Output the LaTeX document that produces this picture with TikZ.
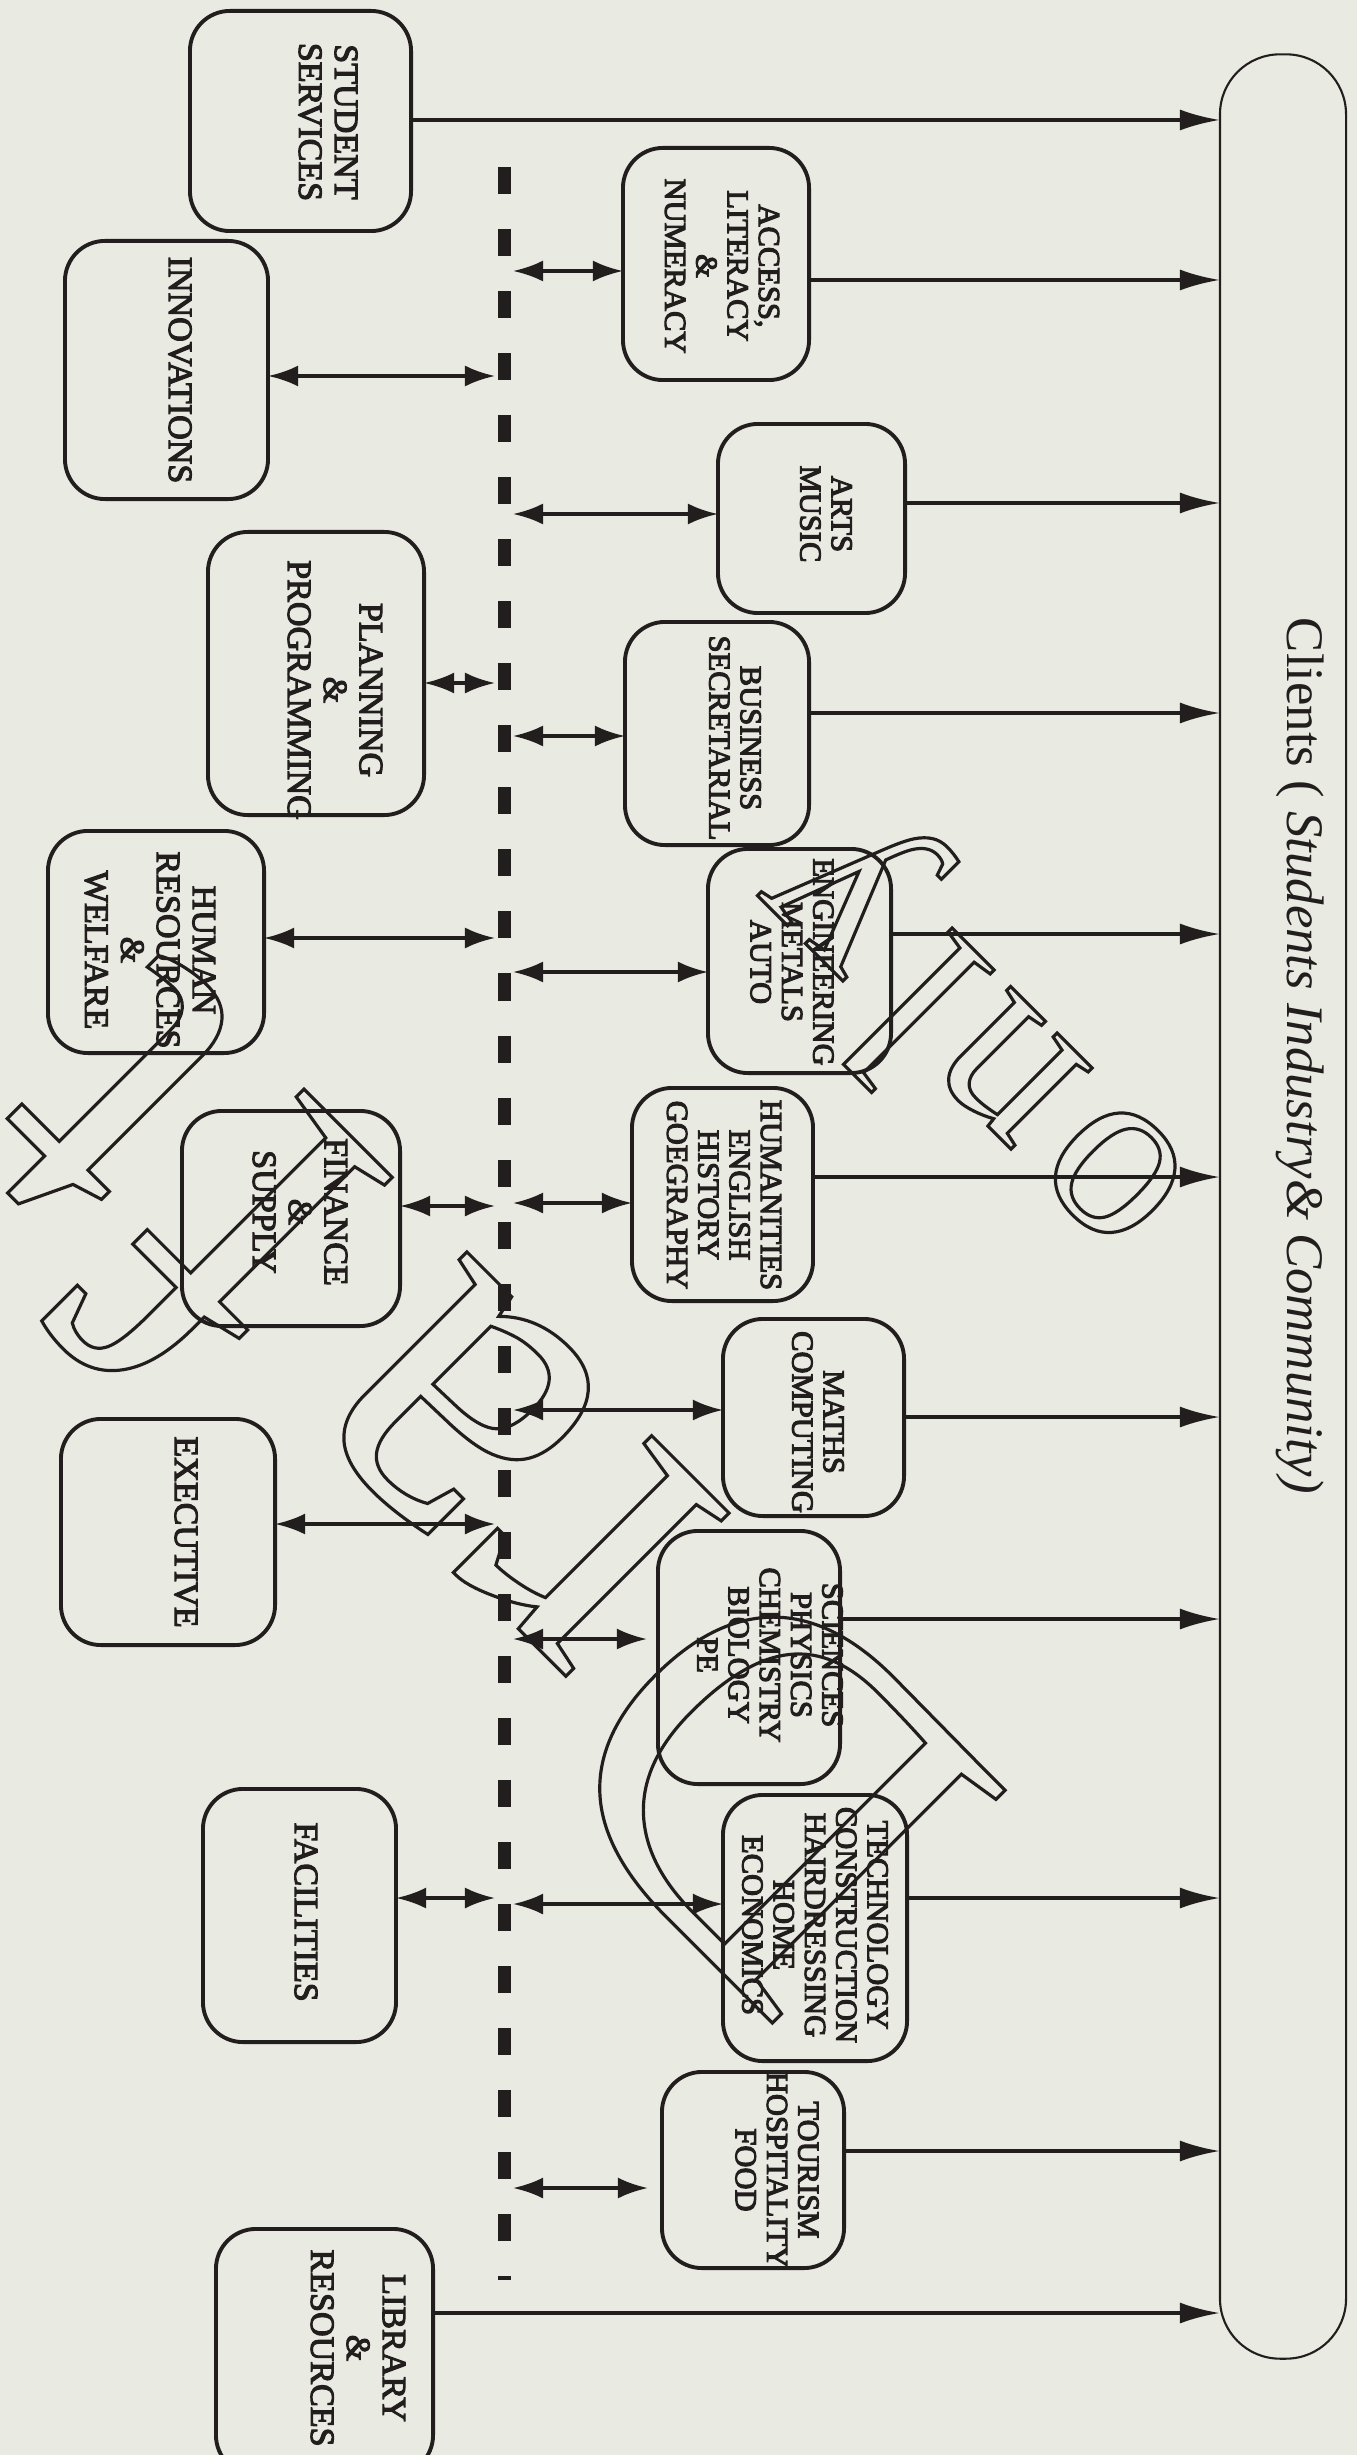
\documentclass[tikz,border=0pt]{standalone}
\usepackage{fontspec}
\setmainfont{Liberation Serif}
\usetikzlibrary{arrows.meta}
\definecolor{bg}{RGB}{233,234,226}
\definecolor{ink}{RGB}{35,30,30}
\newcommand\outl[1]{\special{pdf:literal direct 1 Tr 0.9 w}#1\special{pdf:literal direct 0 Tr}}
\newcommand\bx[1]{\special{pdf:literal direct 2 Tr 0.3 w}#1\special{pdf:literal direct 0 Tr}}
\tikzset{
  box/.style={draw=ink, line width=1.1pt, rounded corners=0.4cm, inner sep=0pt, outer sep=0pt},
  lblL/.style={rotate=-90, align=center, font=\fontsize{9.7}{10.2}\selectfont, text=ink, inner sep=0pt},
  lblR/.style={rotate=-90, align=center, font=\fontsize{8.7}{8.9}\selectfont, text=ink, inner sep=0pt},
  conn/.style={draw=ink, line width=1pt},
  toC/.style={conn, -{Latex[length=0.4cm,width=0.21cm]}},
  both/.style={conn, {Latex[length=0.3cm,width=0.21cm]}-{Latex[length=0.3cm,width=0.21cm]}},
  wm/.style={rotate=135, anchor=base, inner sep=0pt, outer sep=0pt, text=ink},
}
\begin{document}
\begin{tikzpicture}[x=0.01cm, y=-0.01cm]
\useasboundingbox (0,0) rectangle (1357,2455);
\clip (0,0) rectangle (1357,2455);
\fill[bg] (0,0) rectangle (1357,2455);

% boxes
\node[box, minimum width=2.21cm, minimum height=2.20cm] (ss) at (300.5,121) {};
\node[box, minimum width=2.03cm, minimum height=2.58cm] (inn) at (166.5,370) {};
\node[box, minimum width=1.86cm, minimum height=2.32cm] (acc) at (716,264) {};
\node[box, minimum width=1.87cm, minimum height=1.89cm] (arts) at (811.5,518.5) {};
\node[box, minimum width=2.16cm, minimum height=2.83cm] (plan) at (316,673.5) {};
\node[box, minimum width=1.84cm, minimum height=2.23cm] (bus) at (717,733.5) {};
\node[box, minimum width=2.16cm, minimum height=2.22cm] (hr) at (156,942) {};
\node[box, minimum width=1.83cm, minimum height=2.24cm] (eng) at (799.5,961) {};
\node[box, minimum width=2.18cm, minimum height=2.15cm] (fin) at (291,1218.5) {};
\node[box, minimum width=1.81cm, minimum height=2.13cm] (hum) at (722.5,1194.5) {};
\node[box, minimum width=1.81cm, minimum height=1.97cm] (math) at (813.5,1417.5) {};
\node[box, minimum width=2.14cm, minimum height=2.26cm] (exe) at (168,1532) {};
\node[box, minimum width=1.82cm, minimum height=2.53cm] (sci) at (749,1657.5) {};
\node[box, minimum width=1.93cm, minimum height=2.53cm] (fac) at (299.5,1915.5) {};
\node[box, minimum width=1.84cm, minimum height=2.66cm] (tech) at (815,1928) {};
\node[box, minimum width=1.82cm, minimum height=1.96cm] (tour) at (753,2170) {};
\node[box, minimum width=2.17cm, minimum height=2.46cm] (lib) at (324.5,2352) {};
\node[box, line width=0.6pt, rounded corners=0.6cm, minimum width=1.26cm, minimum height=23.03cm] (cl) at (1283,1206.5) {};

% labels
\node[lblL] (tss) at (328,122) {\bx{STUDENT\\SERVICES}};
\node[lblL] (tinn) at (180,370) {\bx{INNOVATIONS}};
\node[lblR] (tacc) at (722,266) {\bx{ACCESS,\\LITERACY\\\&\\NUMERACY}};
\node[lblR] (tarts) at (826,514) {\bx{ARTS\\MUSIC}};
\node[lblL] (tplan) at (335,690) {\bx{PLANNING\\\&\\PROGRAMMING}};
\node[lblR] (tbus) at (735,738) {\bx{BUSINESS\\SECRETARIAL}};
\node[lblL] (thr) at (150,950) {\bx{HUMAN\\RESOURCES\\\&\\WELFARE}};
\node[lblR] (teng) at (792,962) {\bx{ENGINEERING\\METALS\\AUTO}};
\node[lblL] (tfin) at (300,1212) {\bx{FINANCE\\\&\\SUPPLY}};
\node[lblR] (thum) at (724,1195) {\bx{HUMANITIES\\ENGLISH\\HISTORY\\GOEGRAPHY}};
\node[lblR] (tmath) at (818,1422) {\bx{MATHS\\COMPUTING}};
\node[lblL] (texe) at (186,1532) {\bx{EXECUTIVE}};
\node[lblR] (tsci) at (770,1655) {\bx{SCIENCES\\PHYSICS\\CHEMISTRY\\BIOLOGY\\PE}};
\node[lblL] (tfac) at (306,1912) {\bx{FACILITIES}};
\node[lblR] (ttech) at (815,1925) {\bx{TECHNOLOGY\\CONSTRUCTION\\HAIRDRESSING\\HOME\\ECONOMICS}};
\node[lblR] (ttour) at (777,2170) {\bx{TOURISM\\HOSPITALITY\\FOOD}};
\node[lblL] (tlib) at (358,2348) {\bx{LIBRARY\\\&\\RESOURCES}};
\node[rotate=-90, font=\fontsize{15}{15}\selectfont, text=ink, inner sep=0pt] (tcl) at (1300,1056) {Clients ( \textit{Students Industry\& Community)}};

% dashed divider
\coordinate (dtop) at (504,167);
\coordinate (dbot) at (504,2280);
\draw[ink, line width=0.13cm, dash pattern=on 0.27cm off 0.35cm] (dtop) -- (dbot);
\coordinate (dL) at (495,0);
\coordinate (dR) at (513,0);

% arrows to clients
\draw[toC] (ss.east |- 0,120) -- (cl.west |- 0,120);
\draw[toC] (acc.east |- 0,280) -- (cl.west |- 0,280);
\draw[toC] (arts.east |- 0,503) -- (cl.west |- 0,503);
\draw[toC] (bus.east |- 0,713) -- (cl.west |- 0,713);
\draw[toC] (eng.east |- 0,934) -- (cl.west |- 0,934);
\draw[toC] (hum.east |- 0,1177) -- (cl.west |- 0,1177);
\draw[toC] (math.east |- 0,1417) -- (cl.west |- 0,1417);
\draw[toC] (sci.east |- 0,1619) -- (cl.west |- 0,1619);
\draw[toC] (tech.east |- 0,1898) -- (cl.west |- 0,1898);
\draw[toC] (tour.east |- 0,2151) -- (cl.west |- 0,2151);
\draw[toC] (lib.east |- 0,2313) -- (cl.west |- 0,2313);

% left side double arrows
\draw[both] (inn.east |- 0,376) -- (dL |- 0,376);
\draw[both] (plan.east |- 0,683) -- (dL |- 0,683);
\draw[both] (hr.east |- 0,938) -- (dL |- 0,938);
\draw[both] (fin.east |- 0,1206) -- (dL |- 0,1206);
\draw[both] (exe.east |- 0,1524) -- (dL |- 0,1524);
\draw[both] (fac.east |- 0,1898) -- (dL |- 0,1898);

% right side double arrows
\draw[both] (dR |- 0,271) -- (acc.west |- 0,271);
\draw[both] (dR |- 0,514) -- (arts.west |- 0,514);
\draw[both] (dR |- 0,736) -- (bus.west |- 0,736);
\draw[both] (dR |- 0,972) -- (eng.west |- 0,972);
\draw[both] (dR |- 0,1203) -- (hum.west |- 0,1203);
\draw[both] (dR |- 0,1410) -- (math.west |- 0,1410);
\draw[both, shorten >=0.11cm] (dR |- 0,1639) -- (sci.west |- 0,1639);
\draw[both] (dR |- 0,1904) -- (tech.west |- 0,1904);
\draw[both, shorten >=0.14cm] (dR |- 0,2188) -- (tour.west |- 0,2188);

% watermark
\node[wm, font=\fontsize{143}{143}\selectfont] (wD) at (887,1672) {\outl{D}};
\node[wm, font=\fontsize{143}{143}\selectfont] (wr) at (677,1461) {\outl{r}};
\node[wm, font=\fontsize{143}{143}\selectfont] (wa) at (541,1326) {\outl{a}};
\node[wm, font=\fontsize{143}{143}\selectfont] (wf) at (348,1133) {\outl{f}};
\node[wm, font=\fontsize{143}{143}\selectfont] (wt) at (212,997) {\outl{t}};
\node[wm, font=\fontsize{71}{71}\selectfont] (wo) at (1156,1132) {\outl{o}};
\node[wm, font=\fontsize{71}{71}\selectfont] (wn) at (1052,1028) {\outl{n}};
\node[wm, font=\fontsize{71}{71}\selectfont] (wl) at (973,949) {\outl{l}};
\node[wm, font=\fontsize{71}{71}\selectfont] (wy) at (882,858) {\outl{y}};
\end{tikzpicture}
\end{document}
